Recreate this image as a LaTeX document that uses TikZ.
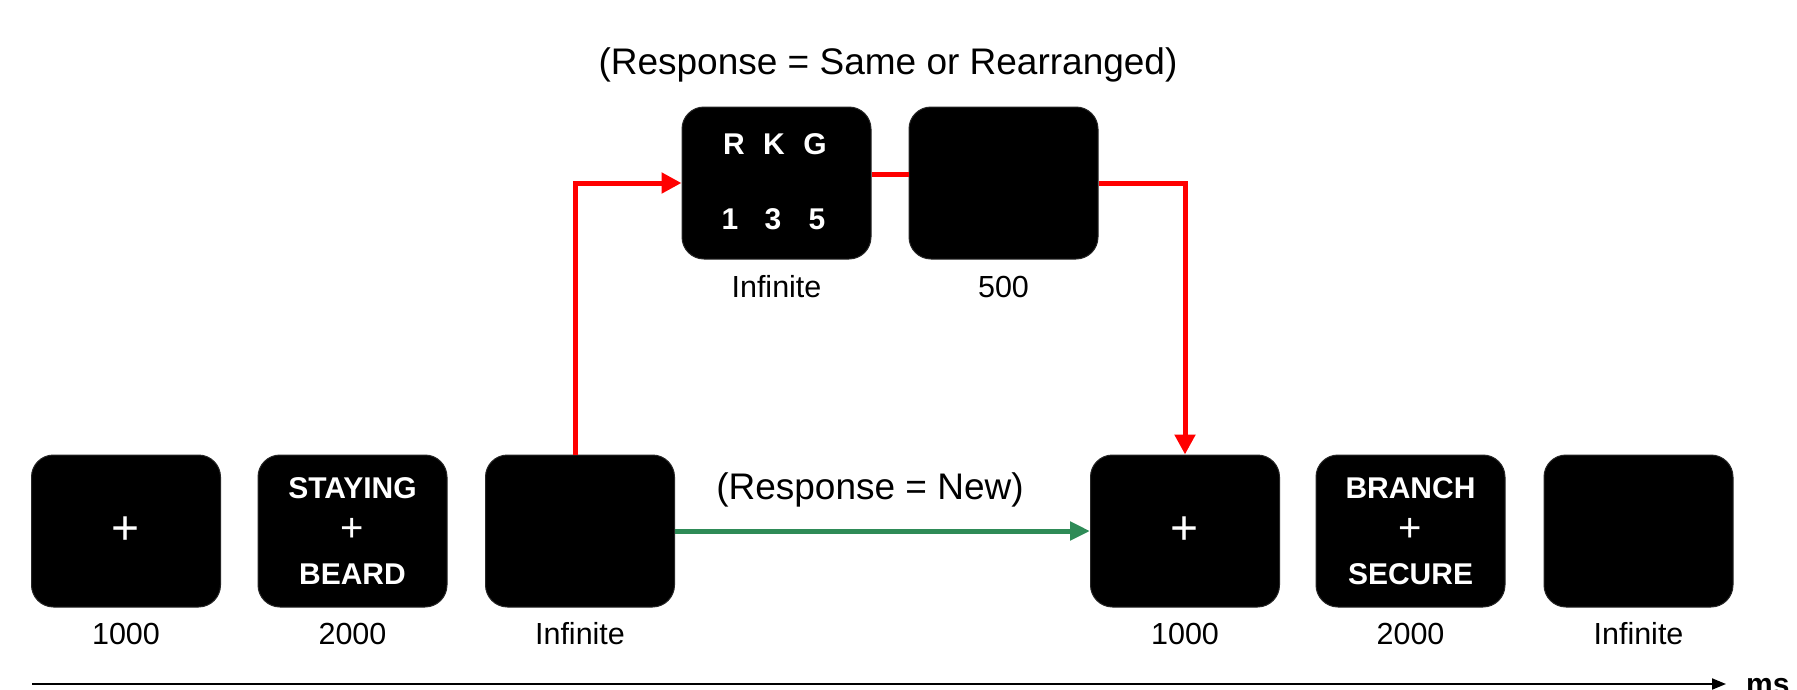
\documentclass[tikz,border=0pt]{standalone}
\usepackage{fontspec}
\setmainfont{Liberation Sans}
\usetikzlibrary{arrows.meta}
\definecolor{rgreen}{RGB}{46,139,87}
\definecolor{rred}{RGB}{255,0,0}
\tikzset{
  screen/.style={rectangle, rounded corners=22pt, fill=black, draw=black!85, line width=1pt,
    minimum width=189pt, minimum height=152pt, inner sep=0pt, text=white,
    font=\fontsize{30}{43}\selectfont\bfseries, align=center},
  letter/.style={text=white, font=\fontsize{30}{34}\selectfont\bfseries, inner sep=0pt},
  dur/.style={font=\fontsize{30.5}{36}\selectfont, inner sep=0pt},
  redline/.style={draw=rred, line width=5pt},
  redarrow/.style={redline, -{Triangle[length=20pt,width=20pt]}},
  greenarrow/.style={draw=rgreen, line width=5pt, -{Triangle[length=20pt,width=18pt]}},
  title/.style={font=\fontsize{37}{42}\selectfont, inner sep=0pt}
}
\newcommand{\bigplus}{{\fontsize{48}{43}\selectfont\mdseries +}}
\newcommand{\midplus}{{\fontsize{40}{43}\selectfont\mdseries +}}
\begin{document}
\begin{tikzpicture}[x=1pt,y=-1pt]
\useasboundingbox (0,0) rectangle (1797,689);
% bottom row
\node[screen] (b1) at (126,531) {\bigplus};
\node[screen] (b2) at (352.5,531) {STAYING\\\midplus\\BEARD};
\node[screen] (b3) at (580,531) {};
\node[screen] (b4) at (1185,531) {\bigplus};
\node[screen] (b5) at (1410.5,531) {BRANCH\\\midplus\\SECURE};
\node[screen] (b6) at (1638.5,531) {};
% top row
\node[screen] (tA) at (776.5,183) {};
\node[letter] (cR) at (734,144) {R};
\node[letter] (cK) at (774,144) {K};
\node[letter] (cG) at (815,144) {G};
\node[letter] (c1) at (730,219) {1};
\node[letter] (c3) at (773,219) {3};
\node[letter] (c5) at (817,219) {5};
\node[screen] (tB) at (1003.5,183) {};
% durations
\node[dur] (l1) at (126,634) {1000};
\node[dur] (l2) at (352.5,634) {2000};
\node[dur] (l3) at (580,634) {Infinite};
\node[dur] (l4) at (1185,634) {1000};
\node[dur] (l5) at (1410.5,634) {2000};
\node[dur] (l6) at (1638.5,634) {Infinite};
\node[dur] (lA) at (776.5,287) {Infinite};
\node[dur] (lB) at (1003.5,287) {500};
% titles
\node[title] (t1) at (888,65) {(Response = Same or Rearranged)};
\node[title] (t2) at (870,490) {(Response = New)};
% connectors
\draw[redarrow] ([xshift=-5pt]b3.north) |- (tA.west);
\draw[redline] ([yshift=9pt]tA.east) -- ([yshift=9pt]tB.west);
\draw[redarrow] (tB.east) -| (b4.north);
\draw[greenarrow] (b3.east) -- (b4.west);
% time axis
\coordinate (ax0) at (32,684);
\coordinate (ax1) at (1726,684);
\draw[line width=2pt, -{Triangle[length=14pt,width=11pt]}] (ax0) -- (ax1);
\node[font=\fontsize{30}{34}\selectfont\bfseries, anchor=base west, inner sep=0pt] (ms) at (1746,694) {ms};
\end{tikzpicture}
\end{document}
